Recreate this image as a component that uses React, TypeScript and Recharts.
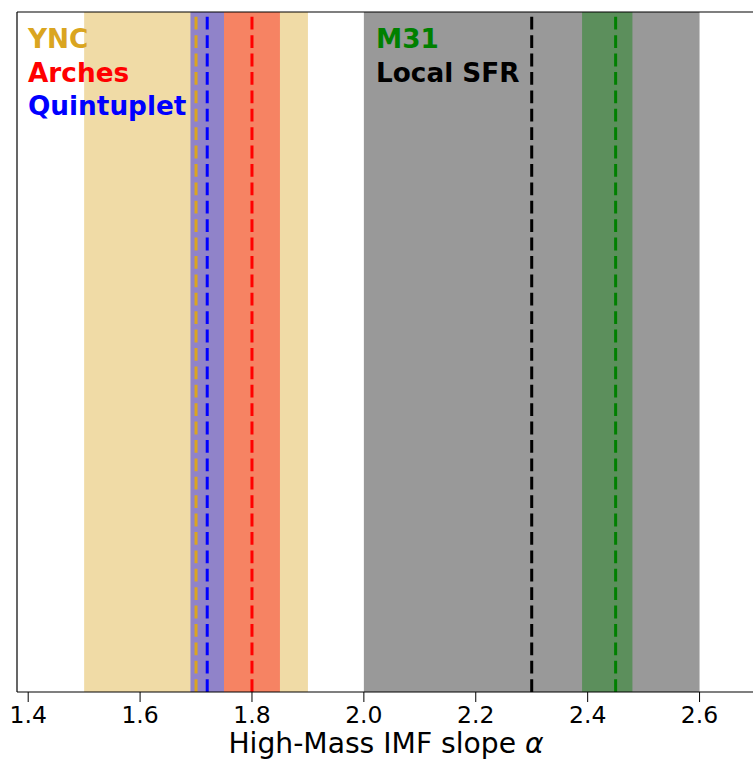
import React from "react";
import {
  ComposedChart,
  XAxis,
  YAxis,
  ReferenceArea,
  ReferenceLine,
} from "recharts";

// high-mass IMF slope estimates: range and best value per sample
const bandNames = ["YNC", "Arches", "Quintuplet", "Local SFR", "M31"];
const bandLow = [1.5, 1.75, 1.69, 2.0, 2.39];
const bandHigh = [1.9, 1.85, 1.75, 2.6, 2.48];
const bandBest = [1.7, 1.8, 1.72, 2.3, 2.45];
const bandColors = ["#daa520", "#ff0000", "#0000ff", "#000000", "#008000"];
const xTicks = [1.4, 1.6, 1.8, 2.0, 2.2, 2.4, 2.6];

const FONT = "DejaVu Sans, sans-serif";

const TickLabel = (props: any) => {
  const { x, y, payload } = props;
  return (
    <text x={x} y={y + 19} textAnchor="middle" fontFamily={FONT} fontSize={23.5} fill="#000">
      {payload.value.toFixed(1)}
    </text>
  );
};

// labels stacked in two columns inside the axes
const leftColumn = [0, 1, 2];
const rightColumn = [4, 3];

export default function App() {
  return (
    <div
      style={{
        position: "fixed",
        left: 0,
        top: 0,
        width: 753,
        height: 761,
        overflow: "hidden",
        background: "#fff",
      }}
    >
      <ComposedChart
        width={780}
        height={761}
        margin={{ top: 12, right: 24.5, left: 17, bottom: 9 }}
      >
        <XAxis
          type="number"
          dataKey="x"
          domain={[1.38, 2.7]}
          ticks={xTicks}
          allowDataOverflow
          height={60}
          tickSize={10}
          tickLine={{ stroke: "#000", strokeWidth: 1 }}
          axisLine={{ stroke: "#000", strokeWidth: 1.2 }}
          tick={<TickLabel />}
        />
        <YAxis type="number" dataKey="y" domain={[0, 1]} allowDataOverflow hide />
        {bandNames.map((name, i) => (
          <ReferenceArea
            key={name}
            x1={bandLow[i]}
            x2={bandHigh[i]}
            y1={0}
            y2={1}
            fill={bandColors[i]}
            fillOpacity={0.4}
            stroke="none"
          />
        ))}
        {bandNames.map((name, i) => (
          <ReferenceLine
            key={name + "-best"}
            x={bandBest[i]}
            stroke={bandColors[i]}
            strokeWidth={3}
            strokeDasharray="12.8 5.6"
          />
        ))}
        <ReferenceLine y={1} stroke="#000" strokeWidth={1.2} />
        <ReferenceLine x={1.38} stroke="#000" strokeWidth={1.2} />
      </ComposedChart>
      <svg
        width={753}
        height={761}
        style={{ position: "absolute", left: 0, top: 0, pointerEvents: "none" }}
      >
        {leftColumn.map((idx, row) => (
          <text
            key={bandNames[idx]}
            x={28}
            y={48 + row * 33.7}
            fontFamily={FONT}
            fontWeight="bold"
            fontSize={26.3}
            fill={bandColors[idx]}
          >
            {bandNames[idx]}
          </text>
        ))}
        {rightColumn.map((idx, row) => (
          <text
            key={bandNames[idx]}
            x={376}
            y={48 + row * 33.7}
            fontFamily={FONT}
            fontWeight="bold"
            fontSize={26.3}
            fill={bandColors[idx]}
          >
            {bandNames[idx]}
          </text>
        ))}
        <text x={386} y={753} textAnchor="middle" fontFamily={FONT} fontSize={28.2} fill="#000">
          High-Mass IMF slope <tspan fontStyle="italic">α</tspan>
        </text>
      </svg>
    </div>
  );
}
